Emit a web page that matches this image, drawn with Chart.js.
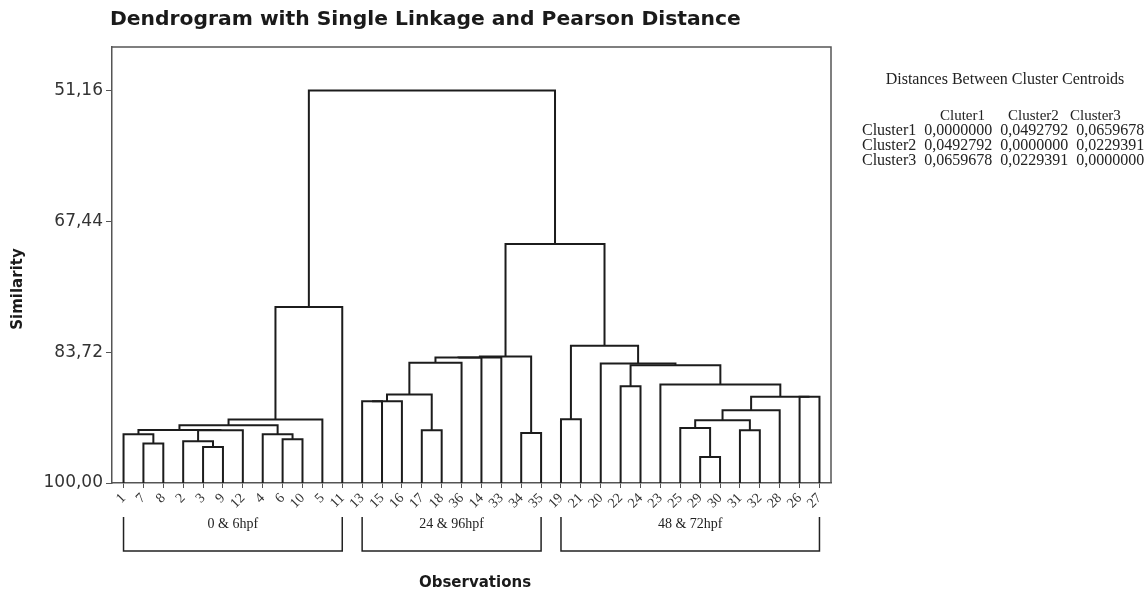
<!DOCTYPE html>
<html><head><meta charset="utf-8">
<script src="https://cdn.jsdelivr.net/npm/chart.js@4.4.1/dist/chart.umd.min.js"></script>
<style>html,body{margin:0;padding:0;background:#fff;}#wrap{width:1146px;height:599px;position:relative;}</style>
</head><body><div id="wrap"><canvas id="c" width="1146" height="599"></canvas></div>
<script>
// ---- data ----
const leafLabels = ['1','7','8','2','3','9','12','4','6','10','5','11','13','15','16','17','18','36','14','33','34','35','19','21','20','22','24','23','25','29','30','31','32','28','26','27'];
// merges in order; new cluster i (1-based) is called 'C'+i
const mergeA = ['7','1','3','2','C4','C2','6','4','C6','C9','C10',
                '13','C12','17','C13','C15','C16','C17','34','C18',
                '19','22','29','25','31','C24','C26','26','C27','23','C22','20','C21',
                'C20','C11'];
const mergeB = ['8','C1','9','C3','12','C5','10','C7','C8','5','11',
                '15','16','18','C14','36','14','33','35','C19',
                '21','24','30','C23','32','C25','28','27','C28','C29','C30','C31','C32',
                'C33','C34'];
const mergeSimilarity = [95.09,93.93,95.51,94.80,93.43,93.42,94.56,93.93,92.81,92.10,78.11,
                89.82,89.82,93.43,88.99,85.05,84.40,84.38,93.77,84.25,
                92.06,87.95,96.76,93.15,93.43,92.19,90.94,89.28,89.28,87.74,85.34,85.12,82.93,
                70.26,51.16];
const yTickValues = [51.16, 67.44, 83.72, 100.00];
const groupNames = ['0 & 6hpf','24 & 96hpf','48 & 72hpf'];
const groupFirst = ['1','13','19'];
const groupLast = ['11','35','27'];
const tableTitle = 'Distances Between Cluster Centroids';
const tableColumns = ['Cluter1','Cluster2','Cluster3'];
const tableRows = ['Cluster1','Cluster2','Cluster3'];
const distCluster1 = [0.0000000, 0.0492792, 0.0659678];
const distCluster2 = [0.0492792, 0.0000000, 0.0229391];
const distCluster3 = [0.0659678, 0.0229391, 0.0000000];
const distRows = [distCluster1, distCluster2, distCluster3];

// ---- build dendrogram segments from the merges ----
const nodeX = {}, nodeY = {};
leafLabels.forEach((l,i)=>{ nodeX[l]=i; nodeY[l]=100; });
const datasets = [];
mergeA.forEach((a,i)=>{
  const b = mergeB[i], s = mergeSimilarity[i];
  datasets.push({
    data:[{x:nodeX[a],y:nodeY[a]},{x:nodeX[a],y:s},{x:nodeX[b],y:s},{x:nodeX[b],y:nodeY[b]}],
    showLine:true, borderColor:'#1c1c1c', borderWidth:2, pointRadius:0, fill:false, tension:0,
    borderJoinStyle:'miter'
  });
  const id = 'C'+(i+1);
  nodeX[id] = (nodeX[a]+nodeX[b])/2; nodeY[id] = s;
});

const fmt = v => v.toFixed(7).replace('.', ',');

const extras = {
  id:'extras',
  afterDraw(chart){
    const ctx = chart.ctx, ca = chart.chartArea, xs = chart.scales.x;
    ctx.save();
    // frame top/right
    ctx.strokeStyle = '#555'; ctx.lineWidth = 1.5;
    ctx.beginPath(); ctx.moveTo(ca.left, ca.top); ctx.lineTo(ca.right, ca.top); ctx.lineTo(ca.right, ca.bottom); ctx.stroke();
    // title
    ctx.fillStyle = '#1a1a1a';
    ctx.font = 'bold 20.3px "DejaVu Sans"';
    ctx.textAlign = 'left'; ctx.textBaseline = 'middle';
    ctx.fillText('Dendrogram with Single Linkage and Pearson Distance', 110, 20);
    // axis titles
    ctx.font = 'bold 15px "DejaVu Sans"';
    ctx.textAlign = 'center';
    ctx.fillText('Observations', 475, 583);
    ctx.save(); ctx.translate(18, 289); ctx.rotate(-Math.PI/2); ctx.fillText('Similarity', 0, 0); ctx.restore();
    // group brackets
    ctx.strokeStyle = '#222'; ctx.lineWidth = 1.5;
    ctx.font = '14px "Liberation Serif"'; ctx.fillStyle = '#222';
    groupNames.forEach((g,i)=>{
      const x1 = xs.getPixelForValue(nodeX[groupFirst[i]]), x2 = xs.getPixelForValue(nodeX[groupLast[i]]);
      ctx.beginPath(); ctx.moveTo(x1, 517); ctx.lineTo(x1, 551); ctx.lineTo(x2, 551); ctx.lineTo(x2, 517); ctx.stroke();
      ctx.fillText(g, (x1+x2)/2, 524);
    });
    // table
    ctx.font = '16px "Liberation Serif"'; ctx.fillStyle = '#222';
    ctx.textAlign = 'center';
    ctx.fillText(tableTitle, 1005, 80);
    const gap = 8;
    let x = 862;
    const labW = Math.max(...tableRows.map(r=>ctx.measureText(r).width));
    x += labW;
    const colRight = [];
    const valW = ctx.measureText(fmt(0)).width;
    for (let j=0;j<tableColumns.length;j++){ x += gap + valW; colRight.push(x); }
    ctx.save();
    ctx.font = '15px "Liberation Serif"';
    ctx.textAlign = 'left';
    const headLeft = [940, 1008, 1070];
    tableColumns.forEach((c,j)=>ctx.fillText(c, headLeft[j], 116));
    ctx.restore();
    tableRows.forEach((r,i)=>{
      const y = 131 + i*15;
      ctx.textAlign = 'left'; ctx.fillText(r, 862, y);
      ctx.textAlign = 'right';
      distRows[i].forEach((v,j)=>ctx.fillText(fmt(v), colRight[j], y));
    });
    ctx.restore();
  }
};

new Chart(document.getElementById('c'), {
  type:'scatter',
  data:{datasets},
  options:{
    responsive:false, animation:false,
    layout:{padding:{left:0,right:315,top:47,bottom:0}},
    plugins:{legend:{display:false}, tooltip:{enabled:false}, title:{display:false}},
    scales:{
      x:{type:'linear', min:-0.58, max:35.58,
        afterBuildTicks: s => { s.ticks = leafLabels.map((_,i)=>({value:i})); },
        afterFit: s => { s.height = 116; },
        ticks:{autoSkip:false, minRotation:45, maxRotation:45, padding:2,
          font:{family:'"Liberation Serif"', size:14}, color:'#333',
          callback:(v)=>leafLabels[v]},
        grid:{drawOnChartArea:false, drawTicks:true, tickLength:5, color:'#555'},
        border:{display:true, color:'#555', width:1.5}
      },
      y:{type:'linear', reverse:true, min:45.75, max:100,
        afterBuildTicks: s => { s.ticks = yTickValues.map(v=>({value:v})); },
        afterFit: s => { s.width = 112; },
        ticks:{padding:3, font:{family:'"DejaVu Sans"', size:17}, color:'#333',
          callback:(v)=>v.toFixed(2).replace('.', ',')},
        grid:{drawOnChartArea:false, drawTicks:true, tickLength:6, color:'#555'},
        border:{display:true, color:'#555', width:1.5}
      }
    }
  },
  plugins:[extras]
});
</script></body></html>
